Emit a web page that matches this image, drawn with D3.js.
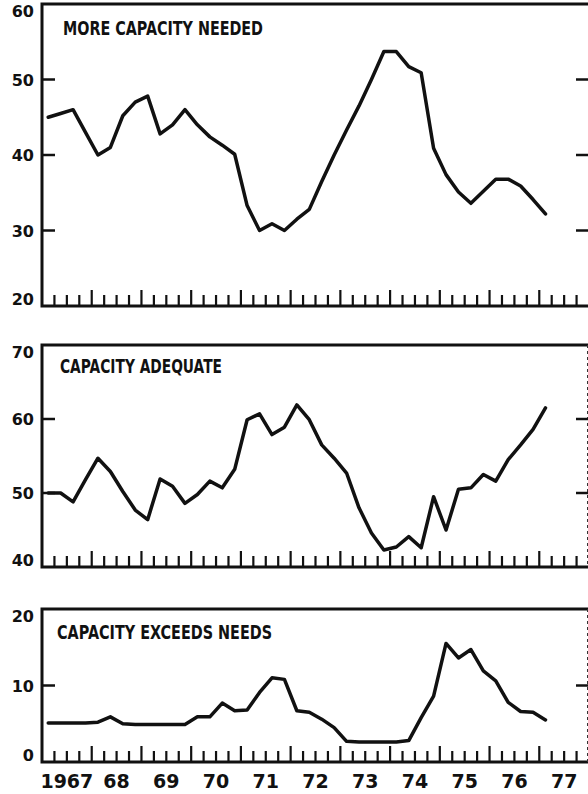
<!DOCTYPE html>
<html>
<head>
<meta charset="utf-8">
<script src="https://cdn.jsdelivr.net/npm/d3@7"></script>
<style>
  body { margin: 0; background: #fff; }
  text { font-family: "DejaVu Sans", sans-serif; font-weight: bold; fill: #111; }
</style>
</head>
<body>
<script>
// quarterly survey shares, 1967 Q1 .. 1977 Q1
const moreNeeded = [45, 45.5, 46, 43, 40, 41, 45.2, 47, 47.8, 42.8, 44, 46, 44, 42.4, 41.3, 40.1,
  33.3, 30, 30.9, 30, 31.5, 32.8, 36.5, 40, 43.3, 46.5, 50, 53.7, 53.7, 51.7, 50.9, 40.9,
  37.4, 35.1, 33.6, 35.2, 36.8, 36.8, 35.9, 34.1, 32.2]
const adequate = [50, 50, 48.8, 51.8, 54.7, 52.9, 50.2, 47.7, 46.4, 51.9, 50.9, 48.6, 49.8, 51.6, 50.7, 53.2,
  59.9, 60.7, 57.9, 58.9, 61.9, 59.9, 56.5, 54.7, 52.7, 48, 44.6, 42.3, 42.7, 44.1, 42.6, 49.5,
  45, 50.5, 50.7, 52.5, 51.6, 54.5, 56.5, 58.6, 61.5]
const exceeds = [5.1, 5.1, 5.1, 5.1, 5.2, 5.9, 5, 4.9, 4.9, 4.9, 4.9, 4.9, 5.9, 5.9, 7.7, 6.7,
  6.8, 9.1, 11, 10.8, 6.7, 6.5, 5.6, 4.5, 2.7, 2.6, 2.6, 2.6, 2.6, 2.8, 5.8, 8.6,
  15.5, 13.6, 14.7, 11.9, 10.6, 7.8, 6.6, 6.5, 5.5]

const yearLabels = ['1967', '68', '69', '70', '71', '72', '73', '74', '75', '76', '77']
const panelTitles = ['MORE CAPACITY NEEDED', 'CAPACITY ADEQUATE', 'CAPACITY EXCEEDS NEEDS']
const panelTicks = [[20, 30, 40, 50, 60], [40, 50, 60, 70], [0, 10, 20]]

const W = 588, H = 794
const svg = d3.select('body').append('svg').attr('width', W).attr('height', H)

const x = d3.scaleLinear().domain([1967, 1978]).range([42, 589])
const quarterTime = i => 1967 + (i + 0.5) / 4

const panels = [
  { data: moreNeeded, dom: [20, 60], rng: [306, 4], title: [63, 35, 200], edge: false },
  { data: adequate, dom: [40, 70], rng: [567, 345], title: [60, 373, 162], edge: true },
  { data: exceeds, dom: [0, 20], rng: [762, 609], title: [57, 639, 215], edge: true }
]

panels.forEach((p, k) => {
  const y = d3.scaleLinear().domain(p.dom).range(p.rng)
  const g = svg.append('g')

  // frame
  g.append('path')
    .attr('d', `M${x(1978)},${y(p.dom[1])}H${x(1967)}V${y(p.dom[0])}H${x(1978)}`)
    .attr('fill', 'none').attr('stroke', '#111').attr('stroke-width', 3)
  if (p.edge) {
    g.append('line')
      .attr('x1', x(1978) - 1.5).attr('x2', x(1978) - 1.5)
      .attr('y1', y(p.dom[1])).attr('y2', y(p.dom[0]))
      .attr('stroke', '#333').attr('stroke-width', 1).attr('stroke-dasharray', '3,3')
  }

  // y ticks, inner ones pointing inward on both sides
  const ticks = panelTicks[k]
  ticks.slice(1, -1).forEach(t => {
    g.append('line').attr('x1', x(1967)).attr('x2', x(1967) + 13)
      .attr('y1', y(t)).attr('y2', y(t)).attr('stroke', '#111').attr('stroke-width', 2.5)
    g.append('line').attr('x1', x(1978) - 13).attr('x2', x(1978))
      .attr('y1', y(t)).attr('y2', y(t)).attr('stroke', '#111').attr('stroke-width', 2.5)
  })
  g.selectAll('.ylab').data(ticks).enter().append('text')
    .attr('x', 34)
    .attr('y', (t, i) => i === ticks.length - 1 ? y(t) + 13 : i === 0 ? y(t) - 1 : y(t) + 6)
    .attr('text-anchor', 'end')
    .attr('font-size', 16)
    .text(t => t)

  // x ticks: quarters short, years long
  const qt = d3.range(1, 44).map(i => 1967 + i / 4)
  g.selectAll('.xt').data(qt).enter().append('line')
    .attr('x1', d => x(d)).attr('x2', d => x(d))
    .attr('y1', y(p.dom[0]))
    .attr('y2', d => y(p.dom[0]) - (Number.isInteger(d) ? 16 : 11))
    .attr('stroke', '#111').attr('stroke-width', 2.2)

  // title
  g.append('text')
    .attr('x', p.title[0]).attr('y', p.title[1])
    .attr('font-family', '"DejaVu Sans Condensed", "DejaVu Sans", sans-serif')
    .attr('font-size', 20)
    .attr('textLength', p.title[2]).attr('lengthAdjust', 'spacingAndGlyphs')
    .text(panelTitles[k])

  // series line
  const line = d3.line().x((d, i) => x(quarterTime(i))).y(d => y(d))
  g.append('path').datum(p.data)
    .attr('d', line)
    .attr('fill', 'none').attr('stroke', '#111')
    .attr('stroke-width', 3.5).attr('stroke-linejoin', 'round').attr('stroke-linecap', 'round')
})

// year labels centred in each year interval
svg.selectAll('.year').data(yearLabels).enter().append('text')
  .attr('x', (d, i) => x(1967 + i + 0.5))
  .attr('y', 788)
  .attr('text-anchor', 'middle')
  .attr('font-family', '"Liberation Sans", Arial, sans-serif')
  .attr('font-size', 19)
  .text(d => d)
</script>
</body>
</html>
